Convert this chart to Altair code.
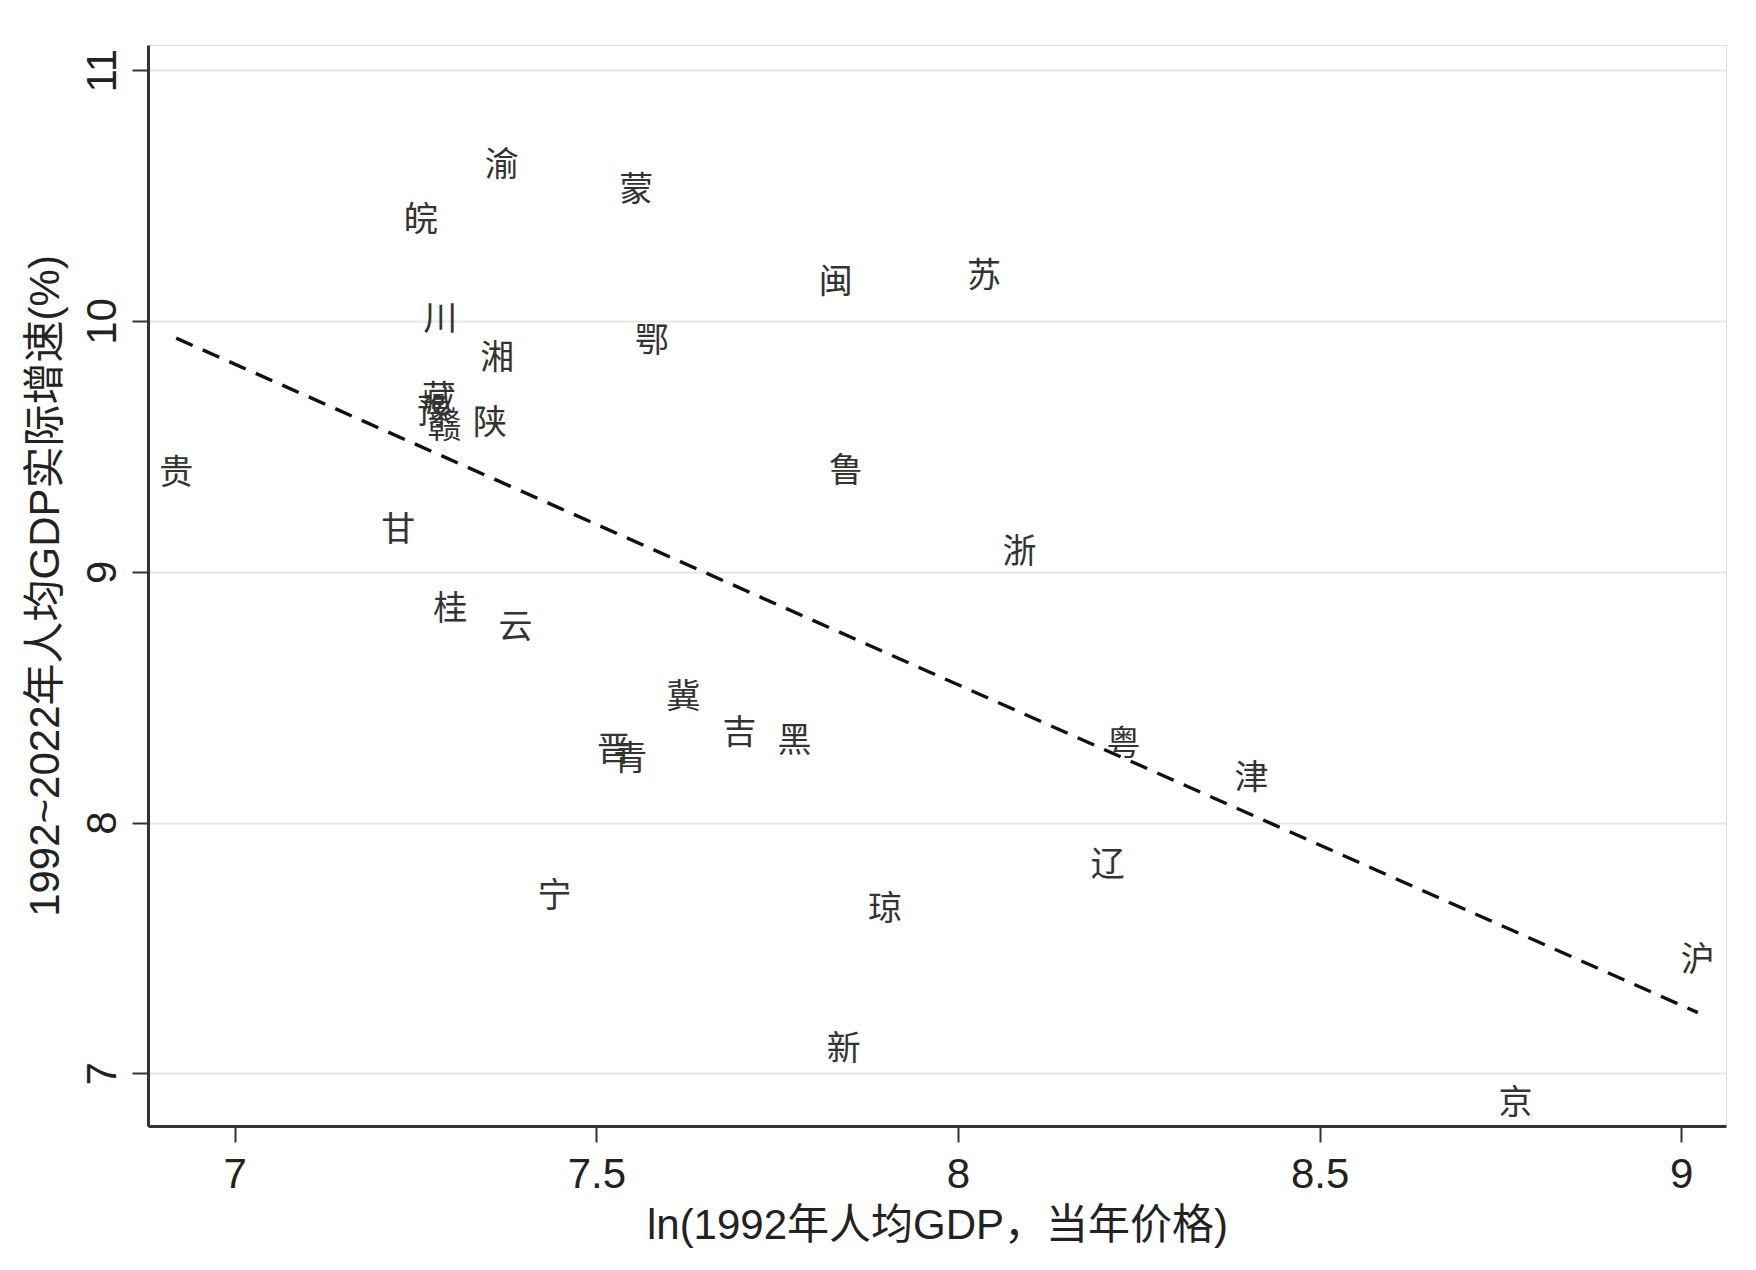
import altair as alt
import pandas as pd

provinces = ["渝","蒙","皖","闽","苏","川","鄂","湘","藏","豫","赣","陕","贵","鲁","甘","浙",
             "桂","云","冀","吉","黑","粤","晋","青","津","辽","宁","琼","沪","新","京"]
ln_gdp_1992 = [7.369,7.555,7.257,7.831,8.036,7.284,7.577,7.363,7.282,7.276,7.290,7.353,6.919,7.845,7.226,8.085,
               7.298,7.388,7.620,7.698,7.774,8.229,7.524,7.547,8.406,8.207,7.442,7.899,9.023,7.842,8.771]
growth = [10.616,10.518,10.397,10.152,10.174,10.004,9.915,9.848,9.683,9.634,9.571,9.589,9.388,9.397,9.161,9.076,
          8.848,8.777,8.496,8.353,8.321,8.308,8.286,8.250,8.174,7.826,7.705,7.652,7.446,7.094,6.879]

df = pd.DataFrame({"prov": provinces, "x": ln_gdp_1992, "y": growth})

FONT = "Liberation Sans Narrow, Liberation Sans, Noto Sans CJK SC"
xs = alt.Scale(domain=[6.88, 9.062], nice=False, zero=False)
ys = alt.Scale(domain=[6.79, 11.1], nice=False, zero=False)

base = alt.Chart(df)

labels = base.mark_text(fontSize=34, font="Noto Sans CJK SC", color="#333333",
                        align="center", baseline="middle").encode(
    x=alt.X("x:Q", scale=xs,
            axis=alt.Axis(title="ln(1992年人均GDP，当年价格)", values=[7, 7.5, 8, 8.5, 9], format="~g",
                          grid=False, tickSize=16, tickWidth=2, tickColor="#333",
                          domainColor="#333", domainWidth=3,
                          labelFontSize=42, labelFont=FONT, labelColor="#222", labelPadding=12,
                          titleFontSize=42, titleFont=FONT, titleFontWeight="normal",
                          titleColor="#222", titlePadding=10)),
    y=alt.Y("y:Q", scale=ys,
            axis=alt.Axis(title="1992~2022年人均GDP实际增速(%)", values=[7, 8, 9, 10, 11], format="~g",
                          grid=True, gridColor="#e6e6e6", gridWidth=2,
                          tickSize=16, tickWidth=2, tickColor="#333",
                          domainColor="#333", domainWidth=3,
                          labelAngle=270, labelAlign="center", labelBaseline="bottom",
                          labelFontSize=42, labelFont=FONT, labelColor="#222", labelPadding=8,
                          titleFontSize=42, titleFont=FONT, titleFontWeight="normal",
                          titleColor="#222", titlePadding=14)),
    text="prov:N",
)

fit = base.transform_regression("x", "y").mark_line(
    color="#111111", strokeWidth=3.5, strokeDash=[18, 11]).encode(
    x=alt.X("x:Q", scale=xs), y=alt.Y("y:Q", scale=ys))

chart = (labels + fit).properties(
    width=1578, height=1081,
    padding={"left": 140, "top": 37, "right": 10, "bottom": 130},
    autosize=alt.AutoSizeParams(type="none"),
).configure_view(stroke=None).configure(background="white")

chart.save("out.html", embed_options={"renderer": "svg", "actions": False})
